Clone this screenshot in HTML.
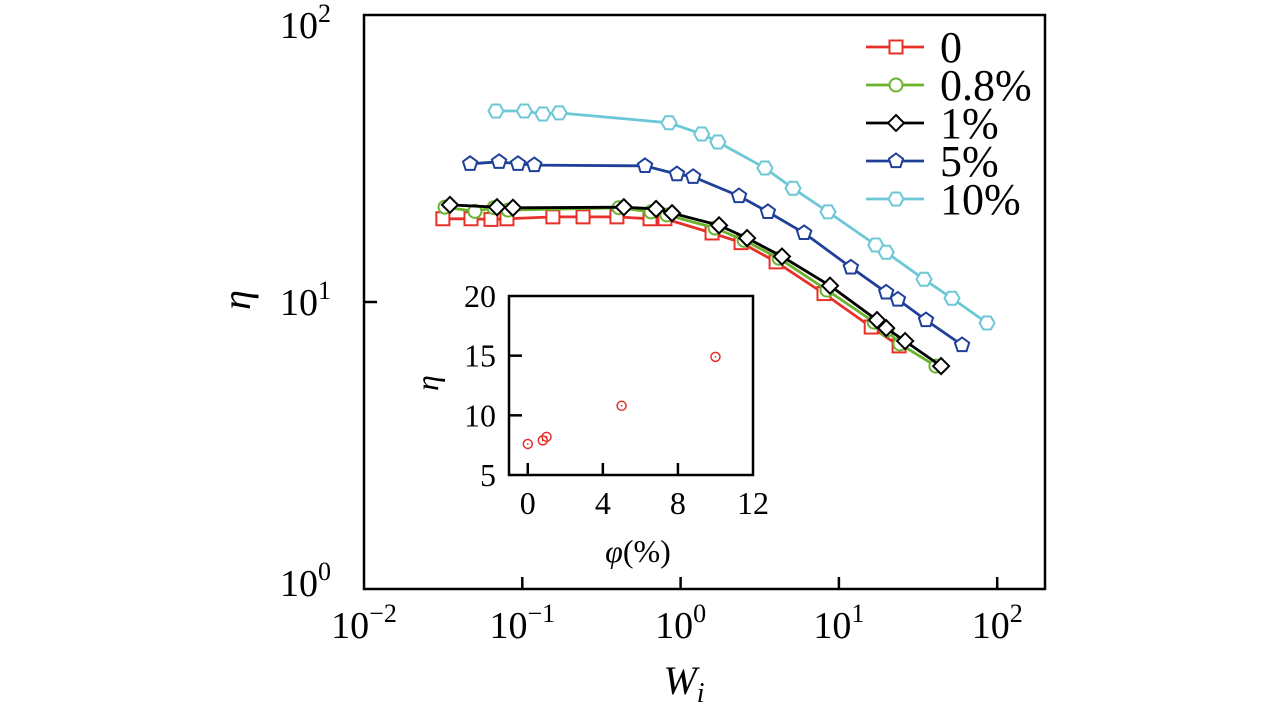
<!DOCTYPE html>
<html><head><meta charset="utf-8"><style>
html,body{margin:0;padding:0;background:#fff;}
svg, svg text, svg tspan{font-family:"Liberation Serif","Times New Roman",Times,serif;fill:#000;}
</style></head><body>
<svg id="chart" width="1283" height="709" xmlns="http://www.w3.org/2000/svg" font-family="Liberation Serif, Times New Roman, serif"></svg>
<script>
// ---- main chart data ----
const seriesNames = ["0","0.8%","1%","5%","10%"];
const seriesColors = ["#e8302a","#6ab42d","#000000","#1f3f99","#6cc8d6"];
const seriesMarkers = ["square","circle","diamond","pentagon","hexagon"];
const wRed = [0.0315,0.0474,0.0634,0.080,0.156,0.242,0.396,0.641,0.796,1.58,2.41,4.01,8.05,16.0,24.0];
const etaRed = [19.5,19.5,19.4,19.5,19.8,19.8,19.8,19.5,19.5,17.4,16.1,13.8,10.7,8.18,7.03];
const wGreen = [0.0325,0.0502,0.0662,0.0813,0.408,0.650,0.820,1.65,2.52,4.19,8.41,16.7,20.1,24.3,41.0];
const etaGreen = [21.4,20.7,21.3,20.9,21.3,20.6,20.1,18.1,16.4,14.2,11.0,8.51,7.98,7.14,5.98];
const wBlack = [0.0349,0.0692,0.0873,0.438,0.700,0.883,1.75,2.63,4.37,8.79,17.4,19.9,26.2,44.2];
const etaBlack = [21.8,21.4,21.3,21.4,21.1,20.4,18.5,16.7,14.4,11.4,8.65,8.11,7.31,5.98];
const wBlue = [0.0468,0.0713,0.094,0.119,0.596,0.948,1.20,2.34,3.56,6.03,11.9,19.9,23.6,35.5,60.0];
const etaBlue = [30.3,30.8,30.3,30.0,29.8,27.9,27.3,23.4,20.6,17.4,13.2,10.8,10.2,8.65,7.08];
const wCyan = [0.0682,0.103,0.135,0.171,0.845,1.36,1.72,3.41,5.13,8.53,17.1,19.9,34.5,51.8,86.3];
const etaCyan = [46.3,46.3,45.2,45.6,42.1,38.5,36.1,29.3,24.9,20.6,15.8,14.9,12.0,10.3,8.45];
const xTickVals = [0.01,0.1,1,10,100];
const xTickExp = ["-2","-1","0","1","2"];
const yTickVals = [1,10,100];
const yTickExp = ["0","1","2"];
// ---- inset data ----
const phiVals = [0,0.8,1,5,10];
const etaInset = [7.6,7.9,8.2,10.8,14.9];
const insetXTicks = [0,4,8,12];
const insetYTicks = [5,10,15,20];

const NS="http://www.w3.org/2000/svg";
const svg=document.getElementById('chart');
const FF='Liberation Serif, Times New Roman, serif';
function mk(tag,attrs,parent){const e=document.createElementNS(NS,tag);for(const k in attrs)e.setAttribute(k,attrs[k]);if(tag==='text')e.setAttribute('font-family',FF);(parent||svg).appendChild(e);return e;}

const PL=364,PR=1045,PT=15,PB=589;
const xDec=158.3,yDec=287;
const X=w=>PL+(Math.log10(w)+2)*xDec;
const Y=v=>PB-Math.log10(v)*yDec;

function marker(type,cx,cy,color,parent){
  const s=6.5;let e;
  if(type==="square"){e=mk('rect',{x:cx-s,y:cy-s,width:2*s,height:2*s},parent);}
  else if(type==="circle"){e=mk('circle',{cx:cx,cy:cy,r:s},parent);}
  else if(type==="diamond"){const r=s+1.5;e=mk('polygon',{points:`${cx},${cy-r} ${cx+r},${cy} ${cx},${cy+r} ${cx-r},${cy}`},parent);}
  else {const n=type==="pentagon"?5:6;const r=s+1;const off=type==="pentagon"?-Math.PI/2:0;const pts=[];for(let i=0;i<n;i++){const a=off+i*2*Math.PI/n;pts.push((cx+r*Math.cos(a)).toFixed(1)+','+(cy+r*Math.sin(a)).toFixed(1));}e=mk('polygon',{points:pts.join(' ')},parent);}
  e.setAttribute('fill','#fff');e.setAttribute('stroke',color);e.setAttribute('stroke-width','2');
  return e;
}

const frame=mk('rect',{x:PL,y:PT,width:PR-PL,height:PB-PT,fill:'none',stroke:'#000','stroke-width':2.5});



xTickVals.forEach((v,i)=>{
  const x=X(v);
  if(i>0)mk('line',{x1:x,y1:PB,x2:x,y2:PB-12,stroke:'#000','stroke-width':2.5});
  const t=mk('text',{x:x,y:638,'font-size':38,'text-anchor':'middle'});
  
  
  t.innerHTML='10<tspan dy="-16" font-size="26">'+(xTickExp[i].replace('-','\u2212'))+'</tspan>';
});
yTickVals.forEach((v,i)=>{
  const y=Y(v);
  if(i===1)mk('line',{x1:PL,y1:y,x2:PL+13,y2:y,stroke:'#000','stroke-width':2.5});
  const t=mk('text',{x:280,y:y+13+(i===2?10:0)+(i===0?-6:0),'font-size':38});
  
  
  t.innerHTML='10<tspan dy="-16" font-size="26">'+yTickExp[i]+'</tspan>';
});
const xt=mk('text',{x:684,y:694,'font-size':40,'font-style':'italic','text-anchor':'middle'});


xt.innerHTML='W<tspan dy="8" font-size="28">i</tspan>';
const yt=mk('text',{x:0,y:0,'font-size':40,'font-style':'italic','text-anchor':'middle',transform:'translate(250,300) rotate(-90)'});


yt.textContent='η';

const allW=[wRed,wGreen,wBlack,wBlue,wCyan];
const allE=[etaRed,etaGreen,etaBlack,etaBlue,etaCyan];
const order=[4,3,0,1,2];
order.forEach(si=>{
  const g=mk('g',{});
  
  
  const pts=allW[si].map((w,j)=>X(w).toFixed(1)+','+Y(allE[si][j]).toFixed(1)).join(' ');
  mk('polyline',{points:pts,fill:'none',stroke:seriesColors[si],'stroke-width':2.8},g);
  allW[si].forEach((w,j)=>{
    const m=marker(seriesMarkers[si],X(w),Y(allE[si][j]),seriesColors[si],g);
    
    
  });
});

const lg=mk('g',{});


seriesNames.forEach((n,i)=>{
  const y=47+i*38;
  const e=mk('g',{},lg);
  
  
  mk('line',{x1:866,y1:y,x2:924,y2:y,stroke:seriesColors[i],'stroke-width':2.8},e);
  marker(seriesMarkers[i],896,y,seriesColors[i],e);
  const t=mk('text',{x:940,y:y+15,'font-size':44},e);
  t.textContent=n;
});

const IL=509,IR=753,IT=296,IB=475;
const IX=v=>IL+(v+1)*(IR-IL)/13;
const IY=v=>IB-(v-5)*(IB-IT)/15;
const ig=mk('g',{});


mk('rect',{x:IL,y:IT,width:IR-IL,height:IB-IT,fill:'#fff',stroke:'#000','stroke-width':2.5},ig);
insetXTicks.forEach(v=>{
  const x=IX(v);
  if(v<12)mk('line',{x1:x,y1:IB,x2:x,y2:IB-12,stroke:'#000','stroke-width':2.5},ig);
  const t=mk('text',{x:x,y:514,'font-size':32,'text-anchor':'middle'},ig);
  
  
  t.textContent=v;
});
insetYTicks.forEach(v=>{
  const y=IY(v);
  if(v>5&&v<20)mk('line',{x1:IL,y1:y,x2:IL+13,y2:y,stroke:'#000','stroke-width':2.5},ig);
  const t=mk('text',{x:496,y:y+11,'font-size':32,'text-anchor':'end'},ig);
  
  
  t.textContent=v;
});
const ixt=mk('text',{x:638,y:562,'font-size':32,'text-anchor':'middle'},ig);


ixt.innerHTML='<tspan font-style="italic">φ</tspan>(%)';
const iyt=mk('text',{x:0,y:0,'font-size':32,'font-style':'italic','text-anchor':'middle',transform:'translate(438,383) rotate(-90)'},ig);


iyt.textContent='η';
phiVals.forEach((p,i)=>{
  const cx=IX(p),cy=IY(etaInset[i]);
  const c=mk('circle',{cx:cx,cy:cy,r:4.5,fill:'none',stroke:'#e8302a','stroke-width':1.5},ig);
  
  
  mk('circle',{cx:cx,cy:cy,r:0.9,fill:'#e8302a'},ig);
});
</script>
</body></html>
